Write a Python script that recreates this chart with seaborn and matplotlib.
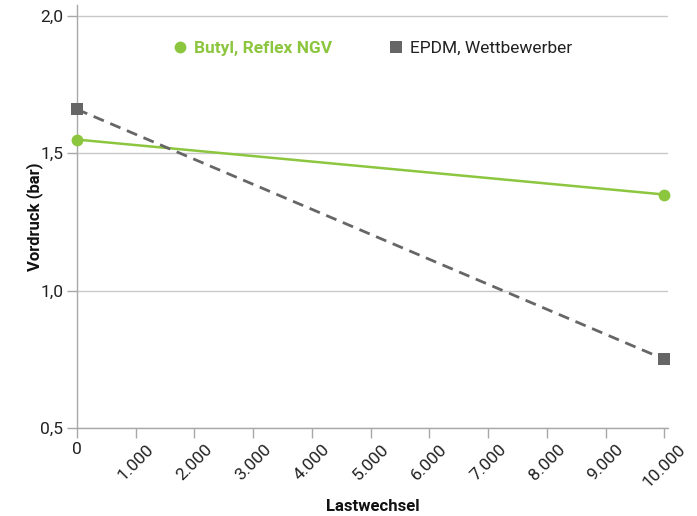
import matplotlib
matplotlib.use("Agg")
import matplotlib.pyplot as plt
from matplotlib.lines import Line2D
import seaborn as sns
import pandas as pd

cycles = [0, 10000]
butyl = [1.55, 1.35]
epdm = [1.66, 0.75]
series_names = ["Butyl, Reflex NGV", "EPDM, Wettbewerber"]
x_ticks = [0, 1000, 2000, 3000, 4000, 5000, 6000, 7000, 8000, 9000, 10000]
x_labels = ["0", "1.000", "2.000", "3.000", "4.000", "5.000", "6.000", "7.000", "8.000", "9.000", "10.000"]
y_ticks = [0.5, 1.0, 1.5, 2.0]
y_labels = ["0,5", "1,0", "1,5", "2,0"]

GREEN = "#8cc63f"
GRAY = "#666666"
AXC = "#a8a8a8"

sns.set_style("white")
plt.rcParams["font.family"] = ["Roboto", "DejaVu Sans"]

fig = plt.figure(figsize=(6.97, 5.16), dpi=100)
ax = fig.add_axes([77/697, 88/516, 591/697, 423/516])

df_b = pd.DataFrame({"x": cycles, "y": butyl})
df_e = pd.DataFrame({"x": cycles, "y": epdm})
sns.lineplot(data=df_b, x="x", y="y", ax=ax, color=GREEN, linewidth=1.8,
             marker="o", markersize=8.5, markeredgewidth=0, zorder=4, clip_on=False)
sns.lineplot(data=df_e, x="x", y="y", ax=ax, color=GRAY, linewidth=2.0,
             linestyle=(0, (4, 2.5)), marker="s", markersize=8, markeredgewidth=0, zorder=4,
             clip_on=False)

ax.set_xlim(0, 10060)
ax.set_ylim(0.5, 2.04)
ax.set_yticks(y_ticks)
ax.set_yticklabels(y_labels)
ax.set_xticks(x_ticks)
ax.set_xticklabels(x_labels)
for i, lab in enumerate(ax.get_xticklabels()):
    if i == 0:
        lab.set_rotation(0)
        lab.set_ha("center")
    else:
        lab.set_rotation(45)
        lab.set_ha("center")
        lab.set_va("top")

ax.grid(axis="y", color="#c8c8c8", linewidth=1.0)
ax.set_axisbelow(True)
for s in ["top", "right"]:
    ax.spines[s].set_visible(False)
for s in ["left", "bottom"]:
    ax.spines[s].set_color(AXC)
    ax.spines[s].set_linewidth(1.0)
ax.tick_params(axis="both", colors=AXC, labelcolor="#222222", labelsize=12.5,
               length=7, width=1.0, direction="out", bottom=True, left=True, pad=3)

ax.set_xlabel("Lastwechsel", fontsize=12, fontweight="bold", color="#111111", labelpad=6)
ax.set_ylabel("Vordruck (bar)", fontsize=12, fontweight="bold", color="#111111", labelpad=-2)

handles = [Line2D([], [], color=GREEN, marker="o", linestyle="none", markersize=8.5, markeredgewidth=0),
           Line2D([], [], color=GRAY, marker="s", linestyle="none", markersize=8, markeredgewidth=0)]
leg = ax.legend(handles, series_names, loc="center left", bbox_to_anchor=(0.133, 0.898),
                ncol=2, frameon=False, fontsize=12.5, handletextpad=0.3, columnspacing=3.2,
                handlelength=1.0)
leg.get_texts()[0].set_color(GREEN)
leg.get_texts()[0].set_fontweight("bold")
leg.get_texts()[1].set_color("#222222")

fig.savefig("out.png", dpi=100)
